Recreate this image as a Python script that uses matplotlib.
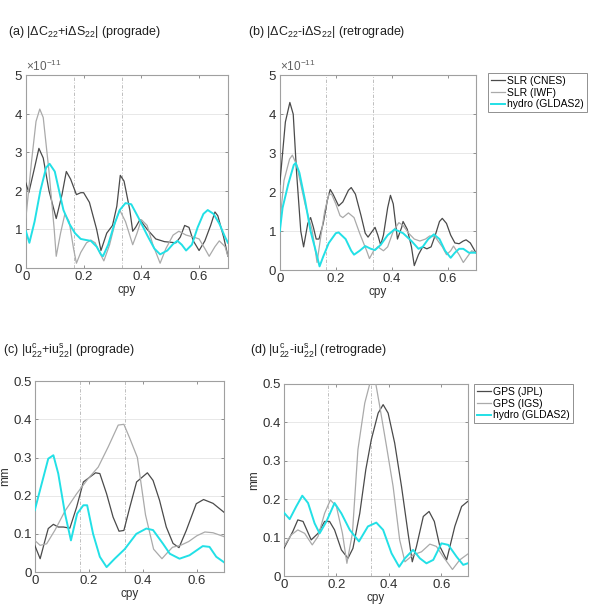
import numpy as np
import matplotlib
matplotlib.use("Agg")
import matplotlib.pyplot as plt
from matplotlib.ticker import ScalarFormatter

plt.rcParams["font.family"] = ["Liberation Sans", "DejaVu Sans"]
plt.rcParams["mathtext.fontset"] = "custom"
plt.rcParams["mathtext.rm"] = "Liberation Sans"
plt.rcParams["mathtext.it"] = "Liberation Sans"

FONT_SIZE = 8.5
TITLE_SIZE = 9
TICK_SIZE = 9.5
LEGEND_SIZE = 7.5

DARK = "#4a4a4a"
LIGHT = "#aaaaaa"
CYAN = "#22e0e6"

# ---------------------------------------------------------------------------------------------- #
# Data (Stokes coefficients in units of 1e-11, displacements in mm)
# ---------------------------------------------------------------------------------------------- #
# (a) prograde Stokes
a_cnes_x = [0, 0.01, 0.03, 0.045, 0.06, 0.08, 0.105, 0.125, 0.14, 0.155, 0.175, 0.19, 0.2, 0.22,
            0.245, 0.26, 0.28, 0.3, 0.315, 0.327, 0.34, 0.36, 0.37, 0.38, 0.395, 0.42, 0.45, 0.48,
            0.52, 0.535, 0.55, 0.565, 0.58, 0.6, 0.62, 0.64, 0.655, 0.665, 0.685, 0.7]
a_cnes_y = [2.2, 1.95, 2.6, 3.1, 2.85, 2.0, 1.28, 1.9, 2.5, 2.3, 1.9, 1.95, 1.95, 1.7,
            1.0, 0.45, 0.9, 1.1, 1.6, 2.4, 2.25, 1.5, 0.95, 1.05, 1.25, 1.0, 0.75, 0.68,
            0.65, 0.8, 1.1, 1.05, 0.7, 0.45, 0.7, 1.1, 1.45, 1.35, 0.8, 0.3]
a_iwf_x = [0, 0.02, 0.035, 0.048, 0.06, 0.08, 0.098, 0.105, 0.12, 0.135, 0.15, 0.165, 0.175, 0.19,
           0.21, 0.225, 0.24, 0.255, 0.27, 0.29, 0.31, 0.325, 0.345, 0.37, 0.385, 0.4, 0.42, 0.44,
           0.465, 0.485, 0.51, 0.53, 0.555, 0.58, 0.6, 0.62, 0.635, 0.655, 0.67, 0.69, 0.7]
a_iwf_y = [1.3, 2.8, 3.8, 4.12, 3.9, 2.5, 1.0, 0.3, 0.9, 1.4, 1.2, 0.5, 0.12, 0.4,
           0.65, 0.72, 0.65, 0.4, 0.18, 0.6, 1.2, 1.5, 1.2, 0.6, 0.9, 1.25, 1.1, 0.6,
           0.12, 0.5, 0.85, 0.95, 0.85, 0.8, 0.75, 0.5, 0.3, 0.55, 0.7, 0.55, 0.3]
a_hyd_x = [0, 0.012, 0.03, 0.05, 0.07, 0.082, 0.1, 0.115, 0.13, 0.15, 0.17, 0.19, 0.21, 0.225,
           0.245, 0.26, 0.267, 0.285, 0.305, 0.325, 0.345, 0.365, 0.39, 0.42, 0.445, 0.465, 0.49,
           0.51, 0.525, 0.54, 0.555, 0.575, 0.595, 0.615, 0.63, 0.65, 0.67, 0.69, 0.7]
a_hyd_y = [0.95, 0.65, 1.2, 2.0, 2.6, 2.7, 2.5, 2.0, 1.5, 1.15, 0.9, 0.75, 0.72, 0.7,
           0.55, 0.35, 0.3, 0.6, 1.1, 1.5, 1.68, 1.65, 1.3, 0.85, 0.5, 0.35, 0.45,
           0.62, 0.7, 0.6, 0.45, 0.6, 1.05, 1.4, 1.5, 1.4, 1.15, 0.8, 0.65]

# (b) retrograde Stokes
b_cnes_x = [0, 0.02, 0.036, 0.048, 0.06, 0.075, 0.085, 0.1, 0.11, 0.12, 0.13, 0.14, 0.155, 0.17,
            0.18, 0.19, 0.21, 0.225, 0.245, 0.255, 0.27, 0.29, 0.305, 0.315, 0.33, 0.34, 0.35,
            0.36, 0.37, 0.385, 0.395, 0.405, 0.42, 0.435, 0.44, 0.455, 0.47, 0.48, 0.495, 0.51,
            0.525, 0.54, 0.555, 0.57, 0.58, 0.595, 0.61, 0.625, 0.64, 0.655, 0.665, 0.68, 0.7]
b_cnes_y = [2.2, 3.8, 4.3, 4.0, 2.5, 1.0, 0.6, 1.2, 1.35, 1.1, 0.8, 0.8, 1.2, 1.8,
            2.07, 1.95, 1.65, 1.75, 2.05, 2.12, 1.95, 1.4, 0.95, 0.85, 1.0, 1.1, 0.9,
            0.65, 0.9, 1.6, 1.92, 1.7, 0.8, 1.1, 1.25, 1.05, 0.6, 0.12, 0.4, 0.6,
            0.55, 0.6, 0.9, 1.25, 1.33, 1.2, 0.9, 0.7, 0.68, 0.75, 0.78, 0.7, 0.45]
b_iwf_x = [0, 0.015, 0.035, 0.045, 0.06, 0.075, 0.09, 0.105, 0.115, 0.127, 0.133, 0.145, 0.16,
           0.175, 0.185, 0.2, 0.215, 0.225, 0.245, 0.265, 0.285, 0.31, 0.32, 0.335, 0.35, 0.37,
           0.385, 0.405, 0.425, 0.44, 0.46, 0.48, 0.5, 0.52, 0.535, 0.555, 0.58, 0.595, 0.61,
           0.62, 0.64, 0.655, 0.67, 0.685, 0.7]
b_iwf_y = [1.2, 2.3, 2.85, 2.95, 2.7, 2.2, 1.7, 1.3, 1.05, 0.5, 0.2, 0.8, 1.5,
           1.95, 1.95, 1.7, 1.4, 1.35, 1.47, 1.35, 0.95, 0.5, 0.3, 0.5, 0.6, 0.5,
           0.6, 1.0, 1.22, 1.15, 0.95, 0.8, 0.75, 0.8, 0.88, 0.85, 0.6, 0.4, 0.5,
           0.62, 0.4, 0.2, 0.35, 0.5, 0.45]
b_hyd_x = [0, 0.01, 0.03, 0.05, 0.057, 0.07, 0.09, 0.11, 0.13, 0.142, 0.155, 0.175, 0.2, 0.21,
           0.235, 0.255, 0.265, 0.285, 0.305, 0.325, 0.34, 0.36, 0.385, 0.41, 0.44, 0.47, 0.495,
           0.51, 0.53, 0.55, 0.57, 0.59, 0.61, 0.625, 0.64, 0.655, 0.675, 0.7]
b_hyd_y = [1.0, 1.6, 2.2, 2.7, 2.75, 2.5, 1.8, 1.0, 0.45, 0.1, 0.35, 0.7, 0.95, 0.97,
           0.8, 0.5, 0.4, 0.5, 0.62, 0.55, 0.52, 0.65, 0.9, 1.05, 0.95, 0.75, 0.55,
           0.6, 0.8, 0.92, 0.8, 0.5, 0.32, 0.45, 0.55, 0.55, 0.45, 0.45]

# (c) prograde displacement
c_jpl_x = [0, 0.02, 0.038, 0.05, 0.069, 0.087, 0.106, 0.13, 0.155, 0.18, 0.225, 0.241, 0.266,
           0.29, 0.312, 0.33, 0.352, 0.377, 0.417, 0.438, 0.462, 0.487, 0.512, 0.534, 0.561,
           0.598, 0.625, 0.66, 0.7]
c_jpl_y = [0.07, 0.035, 0.083, 0.114, 0.125, 0.118, 0.118, 0.115, 0.17, 0.236, 0.26, 0.258, 0.205,
           0.144, 0.107, 0.109, 0.17, 0.236, 0.26, 0.24, 0.188, 0.118, 0.075, 0.064, 0.109,
           0.179, 0.19, 0.18, 0.157]
c_igs_x = [0, 0.02, 0.044, 0.075, 0.112, 0.155, 0.198, 0.235, 0.272, 0.309, 0.33, 0.352, 0.38,
           0.41, 0.44, 0.471, 0.49, 0.51, 0.54, 0.57, 0.6, 0.63, 0.66, 0.7]
c_igs_y = [0.083, 0.07, 0.074, 0.11, 0.16, 0.205, 0.245, 0.275, 0.328, 0.385, 0.387, 0.35, 0.3,
           0.15, 0.06, 0.035, 0.05, 0.065, 0.07, 0.08, 0.095, 0.105, 0.103, 0.093]
c_hyd_x = [0, 0.05, 0.069, 0.087, 0.112, 0.134, 0.157, 0.18, 0.194, 0.216, 0.241, 0.266, 0.296,
           0.333, 0.376, 0.413, 0.438, 0.475, 0.5, 0.536, 0.573, 0.622, 0.647, 0.672, 0.7]
c_hyd_y = [0.162, 0.297, 0.306, 0.258, 0.153, 0.083, 0.153, 0.175, 0.175, 0.1, 0.04, 0.013, 0.035,
           0.06, 0.1, 0.114, 0.11, 0.074, 0.048, 0.035, 0.044, 0.068, 0.066, 0.04, 0.026]

# (d) retrograde displacement
d_jpl_x = [0, 0.034, 0.053, 0.073, 0.104, 0.13, 0.155, 0.174, 0.193, 0.219, 0.244, 0.263, 0.289,
           0.312, 0.333, 0.359, 0.378, 0.397, 0.422, 0.448, 0.473, 0.489, 0.505, 0.531, 0.553,
           0.573, 0.594, 0.62, 0.651, 0.677, 0.7]
d_jpl_y = [0.072, 0.116, 0.146, 0.142, 0.094, 0.111, 0.142, 0.142, 0.12, 0.068, 0.046, 0.072, 0.163,
           0.277, 0.355, 0.424, 0.446, 0.424, 0.346, 0.233, 0.111, 0.037, 0.077, 0.155, 0.168,
           0.142, 0.077, 0.042, 0.129, 0.181, 0.194]
d_igs_x = [0, 0.028, 0.053, 0.079, 0.108, 0.13, 0.155, 0.177, 0.2, 0.223, 0.24, 0.261, 0.282,
           0.308, 0.327, 0.345, 0.365, 0.391, 0.416, 0.441, 0.461, 0.492, 0.524, 0.556, 0.581,
           0.607, 0.642, 0.67, 0.7]
d_igs_y = [0.077, 0.107, 0.12, 0.111, 0.081, 0.103, 0.163, 0.198, 0.181, 0.111, 0.033, 0.111, 0.329,
           0.45, 0.5, 0.52, 0.442, 0.337, 0.233, 0.094, 0.037, 0.055, 0.063, 0.083, 0.077,
           0.05, 0.017, 0.042, 0.057]
d_hyd_x = [0, 0.022, 0.047, 0.07, 0.092, 0.117, 0.136, 0.162, 0.193, 0.219, 0.251, 0.286, 0.32,
           0.352, 0.378, 0.41, 0.439, 0.461, 0.492, 0.518, 0.543, 0.569, 0.6, 0.626, 0.658,
           0.683, 0.7]
d_hyd_y = [0.165, 0.148, 0.181, 0.209, 0.19, 0.137, 0.111, 0.142, 0.19, 0.163, 0.12, 0.09, 0.129,
           0.139, 0.12, 0.059, 0.024, 0.046, 0.068, 0.046, 0.033, 0.042, 0.085, 0.081, 0.05,
           0.029, 0.033]

SCALE = 1e-11
STOKES_LABELS = ["SLR (CNES)", "SLR (IWF)", "hydro (GLDAS2)"]
GPS_LABELS = ["GPS (JPL)", "GPS (IGS)", "hydro (GLDAS2)"]


# ---------------------------------------------------------------------------------------------- #
def style_axes(ax, ymax, yticks):
    ax.set_xlim(0, 0.7)
    ax.set_ylim(0, ymax)
    ax.set_xticks([0, 0.2, 0.4, 0.6])
    ax.set_xticklabels(["0", "0.2", "0.4", "0.6"])
    ax.set_yticks(yticks)
    for axis in ["top", "bottom", "left", "right"]:
        ax.spines[axis].set_color("#a0a0a0")
        ax.spines[axis].set_linewidth(0.8)
    ax.tick_params(direction="in", top=True, right=True, length=2.5, width=0.6,
                   color="#808080", labelsize=TICK_SIZE, labelcolor="#303030", pad=2)
    ax.yaxis.grid(True, color="#e4e4e4", linewidth=0.6)
    ax.set_axisbelow(True)
    for xv in [1.0 / 6, 1.0 / 3]:
        ax.axvline(xv, color="#b4b4b4", linewidth=0.6, linestyle=(0, (4, 2, 1, 2)), zorder=1)
    ax.set_xlabel("cpy", fontsize=FONT_SIZE, color="#303030", labelpad=1)


fig = plt.figure(figsize=(5.89, 6.06), dpi=100)
axa = fig.add_axes([0.044, 0.558, 0.343, 0.318])
axb = fig.add_axes([0.475, 0.554, 0.333, 0.322])
axc = fig.add_axes([0.059, 0.056, 0.321, 0.315])
axd = fig.add_axes([0.482, 0.0495, 0.312, 0.317])

# Stokes panels
for ax, series in [(axa, [(a_cnes_x, a_cnes_y), (a_iwf_x, a_iwf_y), (a_hyd_x, a_hyd_y)]),
                   (axb, [(b_cnes_x, b_cnes_y), (b_iwf_x, b_iwf_y), (b_hyd_x, b_hyd_y)])]:
    cols = [DARK, LIGHT, CYAN]
    lws = [0.9, 0.9, 1.4]
    for (xs, ys), col, lw, lab in zip(series, cols, lws, STOKES_LABELS):
        ax.plot(xs, np.array(ys) * SCALE, color=col, linewidth=lw, label=lab, zorder=3)
    style_axes(ax, 5 * SCALE, np.arange(0, 6) * SCALE)
    fmt = ScalarFormatter(useMathText=True)
    fmt.set_powerlimits((0, 0))
    ax.yaxis.set_major_formatter(fmt)
    ax.yaxis.get_offset_text().set_fontsize(FONT_SIZE)
    ax.yaxis.get_offset_text().set_color("#606060")

# Displacement panels
for ax, series in [(axc, [(c_jpl_x, c_jpl_y), (c_igs_x, c_igs_y), (c_hyd_x, c_hyd_y)]),
                   (axd, [(d_jpl_x, d_jpl_y), (d_igs_x, d_igs_y), (d_hyd_x, d_hyd_y)])]:
    cols = [DARK, LIGHT, CYAN]
    lws = [0.9, 0.9, 1.4]
    for (xs, ys), col, lw, lab in zip(series, cols, lws, GPS_LABELS):
        ax.plot(xs, ys, color=col, linewidth=lw, label=lab, zorder=3)
    style_axes(ax, 0.5, [0, 0.1, 0.2, 0.3, 0.4, 0.5])
    ax.set_yticklabels(["0", "0.1", "0.2", "0.3", "0.4", "0.5"])
    ax.set_ylabel("mm", fontsize=FONT_SIZE, color="#303030", labelpad=2)

# Legends
for ax, anchor in [(axb, (488 / 589, 1 - 73 / 606)), (axd, (474 / 589, 1 - 384 / 606))]:
    leg = ax.legend(loc="upper left", bbox_to_anchor=anchor, bbox_transform=fig.transFigure,
                    fontsize=LEGEND_SIZE, fancybox=False, framealpha=1, edgecolor="#909090",
                    handlelength=1.3, handletextpad=0.2, borderpad=0.3, labelspacing=0.15,
                    borderaxespad=0)
    leg.get_frame().set_linewidth(0.7)

# Panel titles
TITLE_COL = "#202020"
fig.text(8 / 589, 1 - 32 / 606, r"(a) |$\Delta$C$_{22}$+i$\Delta$S$_{22}$| (prograde)",
         fontsize=TITLE_SIZE, color=TITLE_COL, va="center")
fig.text(248 / 589, 1 - 32 / 606, r"(b) |$\Delta$C$_{22}$-i$\Delta$S$_{22}$| (retrograde)",
         fontsize=TITLE_SIZE, color=TITLE_COL, va="center")
fig.text(3 / 589, 1 - 351 / 606, r"(c) |u$^{\rm c}_{22}$+iu$^{\rm s}_{22}$| (prograde)",
         fontsize=TITLE_SIZE, color=TITLE_COL, va="center")
fig.text(250 / 589, 1 - 351 / 606, r"(d) |u$^{\rm c}_{22}$-iu$^{\rm s}_{22}$| (retrograde)",
         fontsize=TITLE_SIZE, color=TITLE_COL, va="center")

fig.savefig("out.png", dpi=100)
